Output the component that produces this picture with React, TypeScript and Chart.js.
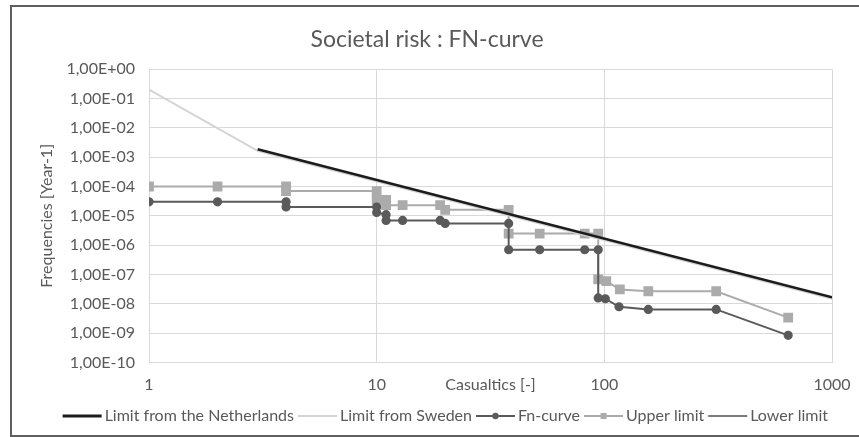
import React, { useEffect, useRef } from "react";
import { Chart, registerables } from "chart.js";

Chart.register(...registerables);

// Casualties N and exceedance frequencies F (per year) for each curve
const netherlandsN = [3, 1000];
const netherlandsF = [1.85e-3, 1.67e-8];

const swedenN = [1, 3, 1000];
const swedenF = [0.2, 1.65e-3, 1.5e-8];

const fnN = [1, 2, 4, 4, 10, 10, 11, 11, 13, 19, 20, 38, 38, 52, 82, 94, 94, 101, 116, 156, 310, 642];
const fnF = [
  3e-5, 3e-5, 3e-5, 2e-5, 2e-5, 1.3e-5, 1.1e-5, 7e-6, 7e-6, 7e-6, 5.5e-6, 5.5e-6,
  7e-7, 7e-7, 7e-7, 7e-7, 1.6e-8, 1.5e-8, 8e-9, 6.5e-9, 6.5e-9, 8.5e-10,
];

const upperN = [1, 2, 4, 4, 10, 10, 11, 11, 13, 19, 20, 38, 38, 52, 82, 94, 94, 102, 117, 156, 310, 642];
const upperF = [
  1e-4, 1e-4, 1e-4, 7e-5, 7e-5, 3.5e-5, 3.5e-5, 2.3e-5, 2.3e-5, 2.3e-5, 1.6e-5, 1.6e-5,
  2.5e-6, 2.5e-6, 2.5e-6, 2.5e-6, 6.8e-8, 6e-8, 3.1e-8, 2.7e-8, 2.7e-8, 3.4e-9,
];

const lowerN: number[] = [];
const lowerF: number[] = [];

const seriesNames = [
  "Limit from the Netherlands",
  "Limit from Sweden",
  "Fn-curve",
  "Upper limit",
  "Lower limit",
];

const xTicks = [1, 10, 100, 1000];
const xTickLabels = ["1", "10", "100", "1000"];

const yTicks = [1e-10, 1e-9, 1e-8, 1e-7, 1e-6, 1e-5, 1e-4, 1e-3, 1e-2, 1e-1, 1];
const yTickLabels = [
  "1,00E-10", "1,00E-09", "1,00E-08", "1,00E-07", "1,00E-06", "1,00E-05",
  "1,00E-04", "1,00E-03", "1,00E-02", "1,00E-01", "1,00E+00",
];

const TEXT = "#595959";
const GRID = "#d9d9d9";
// space reserved for each legend sample, and the drawn sample length
const LEGEND_BOX = 34;
const LEGEND_LINE = 39;

const toPoints = (xs: number[], ys: number[]) => xs.map((x, i) => ({ x, y: ys[i] }));

// Draws each legend sample as a line with the series marker in its middle
const legendSamples = {
  id: "legendSamples",
  afterDraw(chart: any) {
    const legend = chart.legend;
    if (!legend || !legend.legendHitBoxes) return;
    const ctx = chart.ctx;
    legend.legendHitBoxes.forEach((hb: any, i: number) => {
      const ds: any = chart.data.datasets[i];
      if (!ds) return;
      const x0 = hb.left;
      const cy = hb.top + hb.height / 2;
      ctx.save();
      ctx.strokeStyle = ds.borderColor;
      ctx.lineWidth = i === 0 ? 3 : 2;
      ctx.beginPath();
      ctx.moveTo(x0, cy);
      ctx.lineTo(x0 + LEGEND_LINE, cy);
      ctx.stroke();
      if (ds.pointRadius) {
        const cx = x0 + LEGEND_LINE / 2;
        ctx.fillStyle = ds.pointBackgroundColor;
        if (ds.pointStyle === "rect") {
          ctx.fillRect(cx - 3, cy - 3, 6, 6);
        } else {
          ctx.beginPath();
          ctx.arc(cx, cy, 3.2, 0, Math.PI * 2);
          ctx.fill();
        }
      }
      ctx.restore();
    });
  },
};

export default function App() {
  const canvasRef = useRef<HTMLCanvasElement>(null);

  useEffect(() => {
    if (!canvasRef.current) return;
    Chart.defaults.font.family = "Lato, 'Open Sans', sans-serif";
    Chart.defaults.color = TEXT;

    const chart = new Chart(canvasRef.current, {
      type: "line",
      data: {
        datasets: [
          {
            label: seriesNames[0],
            data: toPoints(netherlandsN, netherlandsF),
            borderColor: "#1c1c1c",
            backgroundColor: "#1c1c1c",
            borderWidth: 2.5,
            pointRadius: 0,
          },
          {
            label: seriesNames[1],
            data: toPoints(swedenN, swedenF),
            borderColor: "#d4d4d4",
            backgroundColor: "#d4d4d4",
            borderWidth: 2,
            pointRadius: 0,
          },
          {
            label: seriesNames[2],
            data: toPoints(fnN, fnF),
            borderColor: "#5a5a5a",
            backgroundColor: "#5a5a5a",
            pointBackgroundColor: "#5a5a5a",
            pointBorderColor: "#5a5a5a",
            borderWidth: 2,
            pointRadius: 3.6,
            pointStyle: "circle",
          },
          {
            label: seriesNames[3],
            data: toPoints(upperN, upperF),
            borderColor: "#ababab",
            backgroundColor: "#ababab",
            pointBackgroundColor: "#ababab",
            pointBorderColor: "#ababab",
            borderWidth: 2,
            pointRadius: 5.5,
            pointStyle: "rect",
          },
          {
            label: seriesNames[4],
            data: toPoints(lowerN, lowerF),
            borderColor: "#7a7a7a",
            backgroundColor: "#7a7a7a",
            borderWidth: 2,
            pointRadius: 0,
          },
        ],
      },
      options: {
        animation: false,
        responsive: false,
        events: [],
        layout: { padding: { left: 10, right: 26, top: 0, bottom: 1 } },
        elements: { line: { tension: 0 } },
        plugins: {
          title: {
            display: true,
            text: "Societal risk : FN-curve",
            color: TEXT,
            font: { size: 23, weight: "normal" },
            padding: { top: 19, bottom: 15.5 },
          },
          legend: {
            display: true,
            position: "bottom",
            align: "end",
            labels: {
              boxWidth: LEGEND_BOX,
              boxHeight: 2,
              padding: 4,
              color: TEXT,
              font: { size: 16 },
              generateLabels: (c: any) =>
                c.data.datasets.map((ds: any, i: number) => ({
                  text: ds.label,
                  fillStyle: "rgba(0,0,0,0)",
                  strokeStyle: "rgba(0,0,0,0)",
                  lineWidth: 0,
                  hidden: false,
                  datasetIndex: i,
                  fontColor: TEXT,
                })),
            },
          },
          tooltip: { enabled: false },
        },
        scales: {
          x: {
            type: "logarithmic",
            min: 1,
            max: 1000,
            afterBuildTicks: (s: any) => {
              s.ticks = xTicks.map((v) => ({ value: v }));
            },
            afterFit: (s: any) => {
              s.height = 41.4;
              s.paddingLeft = 0;
              s.paddingRight = 0;
            },
            ticks: {
              autoSkip: false,
              maxRotation: 0,
              padding: 13,
              color: TEXT,
              font: { size: 16 },
              callback: (v: any) => xTickLabels[xTicks.indexOf(Number(v))],
            },
            grid: { color: GRID, drawTicks: false },
            border: { color: GRID },
            title: {
              display: true,
              text: "Casualtics [-]",
              color: TEXT,
              font: { size: 16 },
              padding: { top: 0, bottom: 9.1 },
            },
          },
          y: {
            type: "logarithmic",
            min: 1e-10,
            max: 1,
            afterBuildTicks: (s: any) => {
              s.ticks = yTicks.map((v) => ({ value: v }));
            },
            afterFit: (s: any) => {
              s.width = 127;
            },
            ticks: {
              autoSkip: false,
              padding: 14,
              color: TEXT,
              font: { size: 16 },
              callback: (v: any) => yTickLabels[yTicks.indexOf(Number(v))],
            },
            grid: { color: GRID, drawTicks: false },
            border: { color: GRID },
            title: {
              display: true,
              text: "Frequencies [Year-1]",
              color: TEXT,
              font: { size: 16 },
              padding: { top: 15.4, bottom: 0 },
            },
          },
        },
      } as any,
      plugins: [legendSamples],
    });

    return () => chart.destroy();
  }, []);

  return (
    <div
      style={{
        position: "absolute",
        left: 10,
        top: 5,
        width: 849,
        height: 432,
        border: "2px solid #5f5f5f",
        borderRight: "none",
        boxSizing: "border-box",
        background: "#fff",
      }}
    >
      <canvas ref={canvasRef} width={846} height={428} style={{ display: "block" }} />
    </div>
  );
}
